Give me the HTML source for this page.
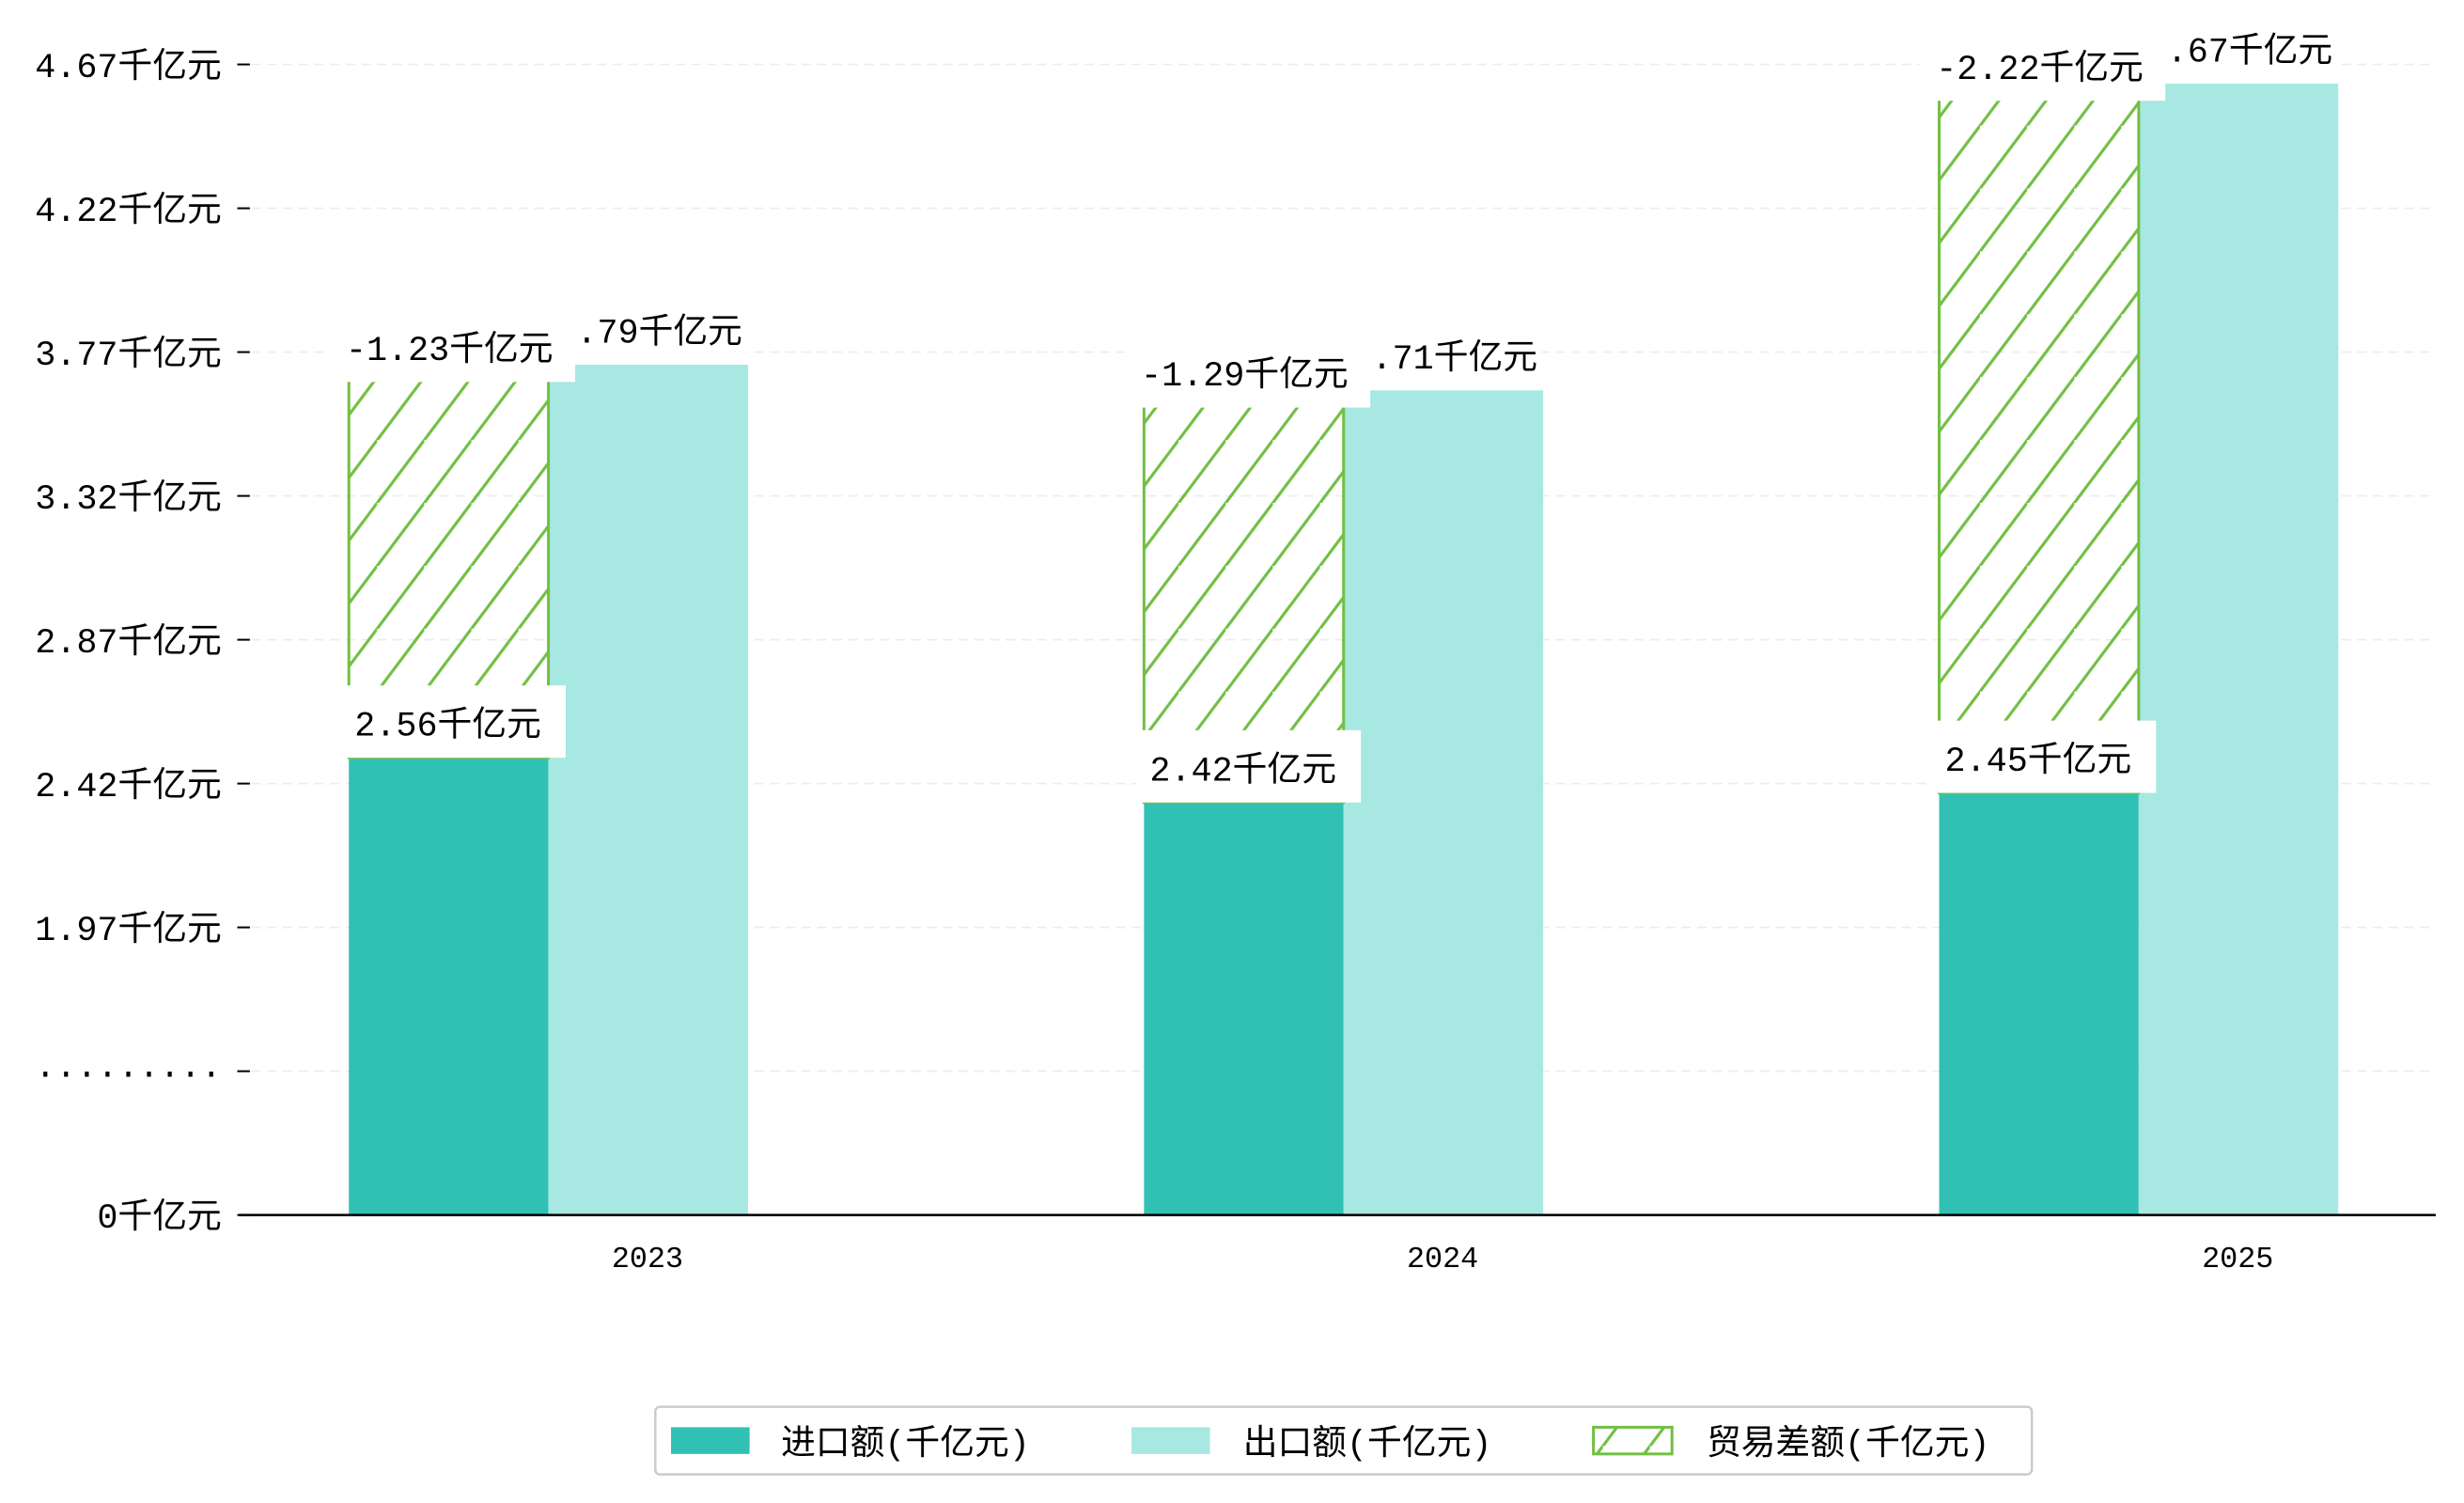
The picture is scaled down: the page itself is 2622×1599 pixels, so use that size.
<!DOCTYPE html>
<html><head><meta charset="utf-8">
<style>
html,body{margin:0;padding:0;background:#fff;}
svg{display:block;}
text{font-family:"Liberation Mono","Noto Sans CJK SC",monospace;fill:#000;}
</style></head>
<body>
<svg id="chart" width="2622" height="1599" viewBox="0 0 1568 956.2" preserveAspectRatio="none" xmlns="http://www.w3.org/2000/svg">
<defs>
<pattern id="hatch" patternUnits="userSpaceOnUse" width="30" height="40">
<line x1="-30" y1="80" x2="30" y2="0" stroke="#72bf44" stroke-width="1.8"/>
<line x1="0" y1="40" x2="30" y2="0" stroke="#72bf44" stroke-width="1.8"/>
<line x1="0" y1="80" x2="60" y2="0" stroke="#72bf44" stroke-width="1.8"/>
</pattern>
</defs>
<g id="grid"></g>
<g id="bars"></g>
<g id="labels"></g>
<g id="axes"></g>
<g id="legend"></g>
</svg>
<script>
const categories = ["2023","2024","2025"];
const importVals = [2.56, 2.42, 2.45];
const exportVals = [3.79, 3.71, 4.67];
const diffVals = [-1.23, -1.29, -2.22];
const yTickLabels = ["0千亿元","·········","1.97千亿元","2.42千亿元","2.87千亿元","3.32千亿元","3.77千亿元","4.22千亿元","4.67千亿元"];

const NS = "http://www.w3.org/2000/svg";
const baseY = 773, plotL = 152, plotR = 1550;
function yScale(v){ return baseY - (v - 1.129) * 203.3; }
function yTick(i){ return baseY - i * 91.5; }
function xCenter(i){ return 412 + i * 506; }
function mk(tag, attrs, parent){
  const e = document.createElementNS(NS, tag);
  for (const k in attrs) e.setAttribute(k, attrs[k]);
  parent.appendChild(e); return e;
}
const grid = document.getElementById('grid');
const bars = document.getElementById('bars');
const labels = document.getElementById('labels');
const axes = document.getElementById('axes');
const legend = document.getElementById('legend');

yTickLabels.forEach((lab, i) => {
  const y = yTick(i);
  if (i > 0) {
    const g = mk('line', {x1:160, x2:plotR, y1:y, y2:y, stroke:'#ececec', 'stroke-width':1, 'stroke-dasharray':'6,4'}, grid);
    
    
  }
  const tk = mk('line', {x1:151, x2:159, y1:y, y2:y, stroke:'#000', 'stroke-width':1.2}, axes);
  
  
  const t = mk('text', {x:141, y:y+8, 'text-anchor':'end', 'font-size':22}, axes);
  t.textContent = lab;
  
  
});

const bw = 127;
categories.forEach((c, i) => {
  const cx = xCenter(i);
  const ix = cx - 190, ex = cx - 63;
  const yi = yScale(importVals[i]), ye = yScale(exportVals[i]);
  const yd = yScale(importVals[i] + Math.abs(diffVals[i]));
  const r1 = mk('rect', {x:ix, y:yi, width:bw, height:baseY-yi, fill:'#31c0b4'}, bars);
  
  
  const r2 = mk('rect', {x:ex, y:ye, width:bw, height:baseY-ye, fill:'#a8e8e2'}, bars);
  
  
  const r3 = mk('rect', {x:ix, y:yd, width:bw, height:yi-yd, fill:'url(#hatch)', stroke:'#72bf44', 'stroke-width':1.8}, bars);
  
  

  const ib = mk('rect', {x:ix-5, y:yi-46, width:143, height:46, fill:'#fff'}, labels);
  
  
  const it = mk('text', {x:ix+63, y:yi-14, 'text-anchor':'middle', 'font-size':22}, labels);
  it.textContent = importVals[i].toFixed(2) + '千亿元';
  
  
  const eb = mk('rect', {x:ex+2, y:ye-43, width:124, height:43, fill:'#fff'}, labels);
  
  
  const et = mk('text', {x:ex+64, y:ye-14, 'text-anchor':'middle', 'font-size':22}, labels);
  et.textContent = exportVals[i].toFixed(2) + '千亿元';
  
  
  const db = mk('rect', {x:ix-12, y:yd-35, width:156, height:46, fill:'#fff'}, labels);
  
  
  const dt = mk('text', {x:ix+64, y:yd-3, 'text-anchor':'middle', 'font-size':22}, labels);
  dt.textContent = diffVals[i].toFixed(2) + '千亿元';
  
  

  const xt = mk('text', {x:cx, y:806, 'text-anchor':'middle', 'font-size':19}, axes);
  xt.textContent = c;
  
  
});
const xa = mk('line', {x1:plotL, x2:plotR, y1:baseY, y2:baseY, stroke:'#000', 'stroke-width':1.5}, axes);



const lb = mk('rect', {x:417, y:895, width:876, height:43, rx:3, fill:'#fff', stroke:'#cccccc', 'stroke-width':1.5}, legend);


const legItems = [
  {px:427, tx:497, fill:'#31c0b4', label:'进口额(千亿元)', name:'legend-entry-import'},
  {px:720, tx:791, fill:'#a8e8e2', label:'出口额(千亿元)', name:'legend-entry-export'},
  {px:1014, tx:1086, fill:'url(#hatch)', label:'贸易差额(千亿元)', name:'legend-entry-balance', stroke:'#72bf44'}
];
legItems.forEach(it => {
  const p = mk('rect', {x:it.px, y:908, width:50, height:17, fill:it.fill}, legend);
  if (it.stroke) { p.setAttribute('stroke', it.stroke); p.setAttribute('stroke-width', 1.8); }
  
  
  const t = mk('text', {x:it.tx, y:925, 'font-size':22}, legend);
  t.textContent = it.label;
  
  
});
</script>
</body></html>
